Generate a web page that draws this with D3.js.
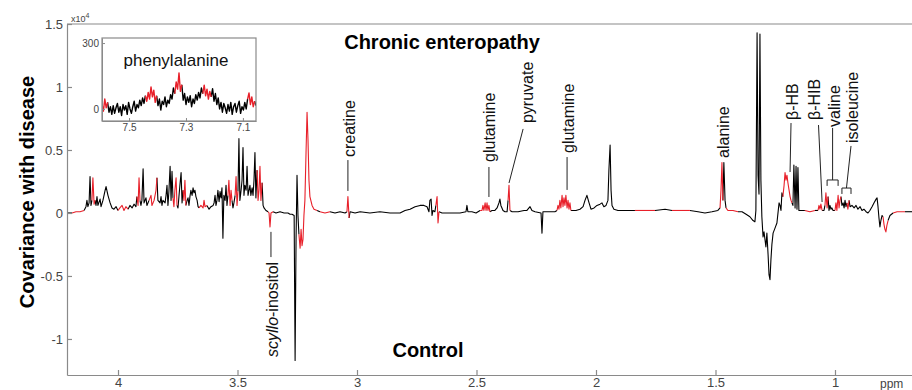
<!DOCTYPE html>
<html>
<head>
<meta charset="utf-8">
<script src="https://cdn.jsdelivr.net/npm/d3@7"></script>
<style>
  body { margin: 0; background: #fff; }
  svg { display: block; font-family: "Liberation Sans", Arial, Helvetica, sans-serif; }
</style>
</head>
<body>
<svg id="chart" width="912" height="390"></svg>
<script>
// chemical shift (ppm), covariance (x10^4)
const glucoseRegion = [
  [4.213, 0], [4.192, 0], [4.176, 0.01], [4.159, 0.01], [4.142, 0.02], [4.134, 0.05], [4.130, 0.10],
  [4.126, 0.05], [4.121, 0.08], [4.117, 0.29], [4.113, 0.06], [4.109, 0.10], [4.105, 0.28], [4.100, 0.07],
  [4.096, 0.10], [4.092, 0.06], [4.088, 0.13], [4.084, 0.06], [4.075, 0.11], [4.071, 0.05], [4.063, 0.10],
  [4.054, 0.18], [4.050, 0.21], [4.042, 0.14], [4.033, 0.08], [4.025, 0.04], [4.017, 0.03], [4.008, 0.05],
  [4.000, 0.02], [3.992, 0.04], [3.983, 0.06], [3.975, 0.02], [3.967, 0.05], [3.958, 0.03], [3.950, 0.06],
  [3.941, 0.04], [3.933, 0.07], [3.925, 0.05], [3.921, 0.13], [3.916, 0.06], [3.912, 0.28], [3.908, 0.10],
  [3.904, 0.06], [3.900, 0.10], [3.895, 0.35], [3.891, 0.08], [3.883, 0.12], [3.879, 0.06], [3.870, 0.10],
  [3.862, 0.14], [3.858, 0.06], [3.849, 0.10], [3.841, 0.18], [3.837, 0.28], [3.833, 0.10], [3.824, 0.08],
  [3.820, 0.13], [3.816, 0.06], [3.812, 0.10], [3.803, 0.08], [3.799, 0.14], [3.795, 0.22], [3.791, 0.06],
  [3.787, 0.17]
];
const inositolRegion = [
  [3.782, 0.37], [3.778, 0.10], [3.774, 0.33], [3.770, 0.12], [3.766, 0.05], [3.762, 0.18], [3.757, 0.28],
  [3.753, 0.06], [3.749, 0.04], [3.745, 0.13], [3.741, 0.22], [3.736, 0.32], [3.732, 0.08], [3.728, 0.18],
  [3.724, 0.10], [3.720, 0.26], [3.716, 0.06], [3.711, 0.10], [3.707, 0.12], [3.703, 0.06], [3.699, 0.13],
  [3.695, 0.18], [3.690, 0.14], [3.686, 0.20], [3.682, 0.16], [3.678, 0.18], [3.674, 0.13], [3.669, 0.10],
  [3.665, 0.05], [3.661, 0.04], [3.653, 0.06], [3.644, 0.04], [3.640, 0.10], [3.636, 0.05], [3.628, 0.06],
  [3.619, 0.03], [3.611, 0.05], [3.602, 0.06], [3.598, 0.08], [3.594, 0.14], [3.590, 0.06], [3.586, 0.10],
  [3.582, 0.18], [3.577, 0.09], [3.573, 0.17], [3.569, 0.12], [3.565, 0.20], [3.561, -0.20], [3.557, 0.14],
  [3.552, 0.10], [3.548, 0.22], [3.544, 0.06], [3.540, 0.14], [3.536, 0.26], [3.531, 0.06], [3.527, 0.18],
  [3.523, 0.10], [3.519, 0.04], [3.515, 0.08], [3.510, 0.14], [3.506, 0.29], [3.502, 0.06], [3.498, 0.17],
  [3.494, 0.59], [3.490, 0.10], [3.485, 0.18], [3.481, 0.26], [3.477, 0.52], [3.473, 0.14], [3.469, 0.22],
  [3.464, 0.18], [3.460, 0.37], [3.456, 0.14], [3.452, 0.18], [3.448, 0.22], [3.444, 0.14], [3.439, 0.20],
  [3.435, 0.14], [3.431, 0.26], [3.427, 0.48], [3.423, 0.12], [3.418, 0.34], [3.414, 0.10], [3.410, 0.18],
  [3.406, 0.37], [3.402, 0.10], [3.397, 0.24], [3.393, 0.06], [3.389, 0.04]
];
const scylloRegion = [
  [3.381, 0.02], [3.372, 0.01], [3.368, 0], [3.364, -0.11], [3.360, 0], [3.351, 0.01], [3.339, 0],
  [3.322, 0.01], [3.305, 0], [3.289, 0], [3.280, -0.01], [3.272, -0.01], [3.263, -0.02], [3.259, -1.17],
  [3.255, -0.21], [3.251, 0.30], [3.247, -0.02], [3.243, -0.17], [3.238, -0.28], [3.234, -0.13],
  [3.230, -0.26], [3.226, -0.21], [3.222, -0.02], [3.218, 0.10], [3.213, 0.50], [3.209, 0.80],
  [3.205, 0.58], [3.201, 0.26], [3.197, 0.13], [3.188, 0.06], [3.180, 0.03], [3.167, 0.02], [3.155, 0.01],
  [3.134, 0], [3.113, 0.01]
];
const creatineRegion = [
  [3.092, 0], [3.071, 0.01], [3.050, 0], [3.042, 0.01], [3.038, 0.13], [3.033, -0.04], [3.029, 0.01],
  [3.008, 0], [2.987, 0.01], [2.946, 0], [2.904, 0.01], [2.862, 0], [2.820, 0], [2.799, 0.02], [2.778, 0.03],
  [2.757, 0.05], [2.736, 0.06], [2.720, 0.06], [2.707, 0.05], [2.699, 0.01], [2.695, 0.10], [2.690, 0.11],
  [2.686, -0.02], [2.682, 0.02], [2.674, 0.01], [2.670, 0.06], [2.665, 0.13], [2.661, -0.08], [2.657, 0.01],
  [2.644, 0], [2.611, 0], [2.569, 0], [2.544, 0.01], [2.540, 0.06], [2.536, 0.01]
];
const glutamineRegion = [
  [2.519, 0.01], [2.502, 0], [2.485, 0.02], [2.477, 0.02], [2.473, 0.06], [2.469, 0.02], [2.464, 0.08],
  [2.460, 0.02], [2.456, 0.08], [2.452, 0.02], [2.448, 0.06], [2.444, 0.01], [2.435, 0.02], [2.423, 0.02],
  [2.414, 0.04], [2.406, 0.08], [2.402, 0.11], [2.398, 0.06], [2.389, 0.02], [2.381, 0.01], [2.372, 0.01],
  [2.368, 0.10], [2.364, 0.22], [2.360, 0.02], [2.351, 0.01], [2.326, 0.01], [2.301, 0.02], [2.289, 0.02],
  [2.276, 0.05], [2.268, 0.02], [2.255, 0.01], [2.230, 0], [2.226, -0.16], [2.222, 0.01], [2.192, 0.01],
  [2.172, 0.01], [2.163, 0.02], [2.159, 0.06], [2.155, 0.03], [2.151, 0.10], [2.147, 0.04], [2.142, 0.14],
  [2.138, 0.05], [2.134, 0.12], [2.130, 0.06], [2.126, 0.14], [2.121, 0.04], [2.117, 0.10], [2.113, 0.03],
  [2.109, 0.08], [2.105, 0.02], [2.096, 0.02], [2.084, 0.02], [2.067, 0.03], [2.054, 0.05], [2.046, 0.10],
  [2.038, 0.14], [2.029, 0.08], [2.021, 0.03], [2.008, 0.04], [1.996, 0.06], [1.983, 0.07], [1.975, 0.08],
  [1.967, 0.05], [1.958, 0.06], [1.950, 0.10], [1.946, 0.34], [1.941, 0.54], [1.937, 0.18], [1.933, 0.06],
  [1.925, 0.03], [1.908, 0.02]
];
const alanineRegion = [
  [1.879, 0.02], [1.837, 0.02], [1.795, 0.02], [1.753, 0.02], [1.711, 0.03], [1.682, 0.02], [1.649, 0.02],
  [1.607, 0.02], [1.573, 0.01], [1.544, 0], [1.515, 0.01], [1.490, 0.02], [1.481, 0.04], [1.477, 0.18],
  [1.473, 0.40], [1.469, 0.10], [1.465, 0.40], [1.460, 0.10], [1.456, 0.04], [1.448, 0.02], [1.427, 0.02],
  [1.406, 0.01], [1.389, 0.01], [1.372, -0.01], [1.356, -0.03], [1.343, -0.06]
];
const lactateRegion = [
  [1.335, -0.07], [1.331, 0.02], [1.326, 1.43], [1.322, 0.30], [1.318, 0.15], [1.314, 1.42], [1.310, 0.26],
  [1.306, -0.03], [1.301, -0.19], [1.297, -0.15], [1.289, -0.27], [1.285, -0.16], [1.280, -0.33],
  [1.276, -0.49], [1.272, -0.53], [1.268, -0.37], [1.264, -0.25], [1.259, -0.16], [1.251, -0.12],
  [1.243, -0.08], [1.234, 0.08], [1.230, 0.06], [1.226, 0.02], [1.222, 0.16], [1.218, 0.13], [1.213, 0.22],
  [1.209, 0.32], [1.205, 0.26], [1.201, 0.30], [1.197, 0.24], [1.192, 0.18], [1.188, 0.13], [1.184, 0.10],
  [1.180, 0.08], [1.176, 0.06], [1.172, 0.38], [1.167, 0.04], [1.163, 0.37], [1.159, 0.03], [1.155, 0.36],
  [1.151, 0.02]
];
const valineRegion = [
  [1.142, 0.02], [1.126, 0.02], [1.105, 0.01], [1.084, 0.02], [1.071, 0.02], [1.067, 0.06], [1.063, 0.03],
  [1.059, 0.07], [1.054, 0.02], [1.046, 0.02], [1.042, 0.06], [1.038, 0.16], [1.033, 0.04], [1.029, 0.13],
  [1.025, 0.02], [1.021, 0.06], [1.017, 0.03], [1.013, 0.04], [1.008, 0.02], [1.000, 0.02], [0.996, 0.08],
  [0.992, 0.02], [0.987, 0.14], [0.983, 0.04], [0.979, 0.10], [0.975, 0.13], [0.971, 0.06], [0.966, 0.08],
  [0.962, 0.04], [0.958, 0.10], [0.954, 0.05], [0.950, 0.08], [0.946, 0.03], [0.941, 0.10], [0.937, 0.05],
  [0.929, 0.06], [0.920, 0.04], [0.912, 0.06], [0.904, 0.03], [0.895, 0.05], [0.887, 0.02], [0.879, 0.03],
  [0.870, 0.01], [0.862, 0], [0.854, 0.02], [0.845, 0.05], [0.837, 0.08], [0.828, 0.11], [0.824, 0.12],
  [0.820, 0.05], [0.816, -0.04], [0.812, -0.11], [0.808, -0.06], [0.803, -0.02], [0.799, -0.03],
  [0.795, -0.09], [0.791, -0.13], [0.787, -0.15], [0.783, -0.10], [0.778, -0.06], [0.770, -0.02],
  [0.757, 0], [0.740, 0.01], [0.707, 0.01], [0.678, 0.01], [0.623, 0.01]
];
// shift ranges where the trace is drawn red (high correlation)
const redBands = [
  [4.195, 4.140], [4.110, 4.098], [4.000, 3.955], [3.922, 3.906], [3.866, 3.836], [3.771, 3.752],
  [3.729, 3.714], [3.658, 3.626], [3.541, 3.522], [3.511, 3.500], [3.419, 3.396], [3.373, 3.355],
  [3.244, 3.170], [3.155, 3.110], [3.043, 3.032], [2.671, 2.656], [2.482, 2.443], [2.369, 2.359],
  [2.164, 2.104], [1.816, 1.774], [1.678, 1.607], [1.482, 1.468], [1.456, 1.398], [1.219, 1.179],
  [1.130, 1.090], [1.072, 1.053], [1.043, 1.028], [1.001, 0.974], [0.951, 0.940], [0.800, 0.777],
  [0.750, 0.705]
];
const xTicks = [4, 3.5, 3, 2.5, 2, 1.5, 1];
const yTicks = [1.5, 1, 0.5, 0, -0.5, -1];

// inset: phenylalanine aromatic region, 7.595 -> 7.054 ppm
const insetRange = [7.595, 7.054];
const insetCov = [
  20, -10, 45, 5, 30, -15, 10, -25,
  15, -20, 5, 25, -15, 10, -30, 20,
  -5, 15, -25, 30, 0, -20, 10, 35,
  -10, 20, 5, 40, 15, 50, 25, 60,
  35, 75, 45, 100, 55, 85, 30, 60,
  15, 45, -5, 35, 20, 55, 10, 40,
  25, 65, 45, 95, 70, 123, 90, 164,
  80, 110, 40, 70, 20, 55, 30, 60,
  10, 45, 25, 65, 40, 75, 50, 95,
  70, 108, 60, 90, 45, 80, 55, 92,
  35, 70, 20, 50, 0, 30, -15, 25,
  5, -20, 20, -10, 30, -25, 10, 25,
  -15, 15, 35, -20, 10, -5, 30, 0,
  45, 73, 20, 55, 10, 35, 15
];
const insetRedBands = [[7.595, 7.574], [7.444, 7.405], [7.339, 7.314], [7.240, 7.209], [7.082, 7.061]];
const insetXTicks = [7.5, 7.3, 7.1];
const insetYTicks = [0, 300];

// metabolite labels: text bottom at [ppm, cov], leader line between two points
const annotations = [
  {name: 'scyllo', ppm: 3.356, cov: -1.143, line: [[3.360, -0.15], [3.360, -0.35]]},
  {name: 'creatine', ppm: 3.033, cov: 0.444, line: [[3.038, 0.42], [3.038, 0.175]]},
  {name: 'glutamine', ppm: 2.444, cov: 0.405, line: [[2.448, 0.365], [2.448, 0.127]]},
  {name: 'pyruvate', ppm: 2.289, cov: 0.714, line: [[2.305, 0.667], [2.364, 0.238]]},
  {name: 'glutamine', ppm: 2.117, cov: 0.476, line: [[2.121, 0.444], [2.121, 0.183]]},
  {name: 'alanine', ppm: 1.469, cov: 0.437, line: null},
  {name: 'β-HB', ppm: 1.180, cov: 0.738, line: [[1.184, 0.714], [1.188, 0.325]]},
  {name: 'β-HIB', ppm: 1.086, cov: 0.738, line: [[1.069, 0.698], [1.054, 0.087]]},
  {name: 'valine', ppm: 1.002, cov: 0.683, line: [[1.010, 0.675], [1.010, 0.262]]},
  {name: 'isoleucine', ppm: 0.929, cov: 0.556, line: [[0.933, 0.532], [0.952, 0.198]]}
];
const brackets = [[1.033, 0.987, 0.262, 0.215], [0.971, 0.933, 0.198, 0.151]];

const spectrum = [].concat(glucoseRegion, inositolRegion, scylloRegion, creatineRegion,
  glutamineRegion, alanineRegion, lactateRegion, valineRegion);

const RED = '#e8202a';
const AXIS = '#8a8a8a';
const svg = d3.select('#chart');

const x = d3.scaleLinear().domain([4.2134, 0.6234]).range([67, 925]);
const y = d3.scaleLinear().domain([-1.286, 1.5]).range([375, 24]);

svg.append('defs').append('clipPath').attr('id', 'plotClip')
  .append('rect').attr('x', 67).attr('y', 24).attr('width', 858).attr('height', 351);

function colourRuns(points, bands) {
  const runs = [];
  for (let i = 0; i < points.length - 1; i++) {
    const mid = (points[i][0] + points[i + 1][0]) / 2;
    const red = bands.some(([a, b]) => mid <= a && mid >= b);
    const last = runs[runs.length - 1];
    if (last && last.red === red) last.pts.push(points[i + 1]);
    else runs.push({red, pts: [points[i], points[i + 1]]});
  }
  return runs;
}

function drawTrace(g, points, bands, xs, ys, width) {
  const line = d3.line().x(d => xs(d[0])).y(d => ys(d[1]));
  const runs = colourRuns(points, bands);
  runs.sort((a, b) => a.red - b.red);
  g.selectAll('path.trace').data(runs).enter().append('path')
    .attr('class', 'trace')
    .attr('d', d => line(d.pts))
    .attr('fill', 'none')
    .attr('stroke', d => d.red ? RED : '#000')
    .attr('stroke-width', width)
    .attr('stroke-linejoin', 'round');
}

const plot = svg.append('g').attr('clip-path', 'url(#plotClip)');
drawTrace(plot, spectrum, redBands, x, y, 1.1);

// axes
const gx = svg.append('g').attr('transform', 'translate(0,375)')
  .call(d3.axisBottom(x).tickValues(xTicks).tickSizeInner(-5).tickSizeOuter(0).tickPadding(3)
    .tickFormat(d => String(d)));
const gy = svg.append('g').attr('transform', 'translate(67,0)')
  .call(d3.axisLeft(y).tickValues(yTicks).tickSizeInner(-5).tickSizeOuter(0).tickPadding(4)
    .tickFormat(d => String(d)));
[gx, gy].forEach(g => {
  g.selectAll('path, line').attr('stroke', AXIS).attr('stroke-width', 1.2);
  g.selectAll('text').attr('fill', '#444').style('font-size', '13px');
});
svg.append('line').attr('x1', 67).attr('x2', 912).attr('y1', 24).attr('y2', 24)
  .attr('stroke', AXIS).attr('stroke-width', 1.2);

const mult = svg.append('text').attr('x', 71).attr('y', 22).attr('fill', '#444').style('font-size', '9px').text('x10');
mult.append('tspan').attr('dy', -4).style('font-size', '7px').text('4');

svg.append('text').attr('x', 880).attr('y', 388).attr('fill', '#444').style('font-size', '12px').text('ppm');

svg.append('text').attr('transform', 'translate(27,192) rotate(-90)')
  .attr('text-anchor', 'middle').attr('dy', '0.35em')
  .style('font-size', '20px').style('font-weight', 'bold').text('Covariance with disease');

svg.append('text').attr('x', 442).attr('y', 49).attr('text-anchor', 'middle')
  .style('font-size', '20px').style('font-weight', 'bold').text('Chronic enteropathy');
svg.append('text').attr('x', 428).attr('y', 357).attr('text-anchor', 'middle')
  .style('font-size', '20px').style('font-weight', 'bold').text('Control');

// metabolite annotations
const ann = svg.append('g').attr('class', 'annotations');
annotations.forEach(a => {
  const t = ann.append('text')
    .attr('transform', `translate(${x(a.ppm)},${y(a.cov)}) rotate(-90)`)
    .attr('dy', '0.35em').attr('fill', '#111').style('font-size', '16px');
  if (a.name === 'scyllo') {
    t.append('tspan').style('font-style', 'italic').text('scyllo');
    t.append('tspan').text('-inositol');
  } else {
    t.text(a.name);
  }
  if (a.line) {
    ann.append('line')
      .attr('x1', x(a.line[0][0])).attr('y1', y(a.line[0][1]))
      .attr('x2', x(a.line[1][0])).attr('y2', y(a.line[1][1]))
      .attr('stroke', '#222').attr('stroke-width', 1);
  }
});
brackets.forEach(([p0, p1, top, foot]) => {
  ann.append('path')
    .attr('d', `M${x(p0)},${y(foot)}V${y(top)}H${x(p1)}V${y(foot)}`)
    .attr('fill', 'none').attr('stroke', '#222').attr('stroke-width', 1);
});

// inset
const ix = d3.scaleLinear().domain(insetRange).range([102, 256]);
const iy = d3.scaleLinear().domain([-55, 323]).range([121, 38]);
const insetPoints = insetCov.map((v, i) =>
  [insetRange[0] + (insetRange[1] - insetRange[0]) * i / (insetCov.length - 1), v]);

const inset = svg.append('g');
inset.append('rect').attr('x', 102).attr('y', 38).attr('width', 154).attr('height', 83).attr('fill', '#fff');
inset.append('defs').append('clipPath').attr('id', 'insetClip')
  .append('rect').attr('x', 102).attr('y', 38).attr('width', 154).attr('height', 83);
const insetPlot = inset.append('g').attr('clip-path', 'url(#insetClip)');
drawTrace(insetPlot, insetPoints, insetRedBands, ix, iy, 1.4);

const igx = inset.append('g').attr('transform', 'translate(0,121)')
  .call(d3.axisBottom(ix).tickValues(insetXTicks).tickSizeInner(-3).tickSizeOuter(0).tickPadding(3)
    .tickFormat(d => String(d)));
const igy = inset.append('g').attr('transform', 'translate(102,0)')
  .call(d3.axisLeft(iy).tickValues(insetYTicks).tickSizeInner(-3).tickSizeOuter(0).tickPadding(3)
    .tickFormat(d => String(d)));
[igx, igy].forEach(g => {
  g.selectAll('path, line').attr('stroke', AXIS).attr('stroke-width', 1);
  g.selectAll('text').attr('fill', '#444').style('font-size', '10px');
});
inset.append('rect').attr('x', 102).attr('y', 38).attr('width', 154).attr('height', 83)
  .attr('fill', 'none').attr('stroke', AXIS).attr('stroke-width', 1.2);
inset.append('text').attr('x', 176).attr('y', 66).attr('text-anchor', 'middle')
  .attr('fill', '#111').style('font-size', '17px').text('phenylalanine');
</script>
</body>
</html>
